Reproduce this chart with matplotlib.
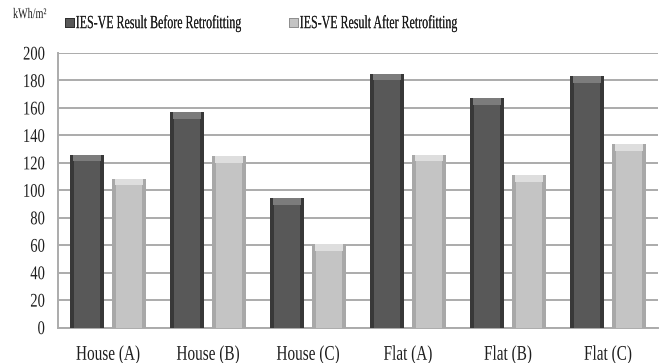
import matplotlib
matplotlib.use("Agg")
import matplotlib.pyplot as plt
import numpy as np
from matplotlib.patheffects import AbstractPathEffect
from matplotlib.transforms import Affine2D
from matplotlib.patches import Patch

categories = ["House (A)", "House (B)", "House (C)", "Flat (A)", "Flat (B)", "Flat (C)"]
before = [126, 157, 94, 185, 167, 183]
after = [108.5, 125, 61, 126, 111, 133.5]
series_names = ["IES-VE Result Before Retrofitting", "IES-VE Result After Retrofitting"]
y_ticks = [0, 20, 40, 60, 80, 100, 120, 140, 160, 180, 200]
unit_label = "kWh/m\u00b2"

plt.rcParams["font.family"] = ["Liberation Serif", "DejaVu Serif"]
TEXT = "#1e1e1e"


class Tall(AbstractPathEffect):
    """Draw text taller than normal, keeping its top, centre or bottom fixed."""

    def __init__(self, sy, anchor="center"):
        super().__init__()
        self.sy = sy
        self.anchor = anchor

    def draw_path(self, renderer, gc, tpath, affine, rgbFace=None):
        ext = tpath.get_extents()
        if self.anchor == "top":
            cy = ext.y1
        elif self.anchor == "bottom":
            cy = ext.y0
        else:
            cy = 0.5 * (ext.y0 + ext.y1)
        t = Affine2D().translate(0, -cy).scale(1, self.sy).translate(0, cy) + affine
        renderer.draw_path(gc, tpath, t, rgbFace)


fig = plt.figure(figsize=(6.70, 3.63), dpi=100)
ax = fig.add_axes([58 / 670, 1 - 327.5 / 363, 600 / 670, 274.5 / 363])

x = np.arange(len(categories))
w = 0.345
off = 0.21

styles = [
    dict(body="#585858", edge="#383838", bevel="#7c7c7c"),
    dict(body="#c4c4c4", edge="#a8a8a8", bevel="#dedede"),
]

for vals, pos, st in [(before, x - off, styles[0]), (after, x + off, styles[1])]:
    vals = np.asarray(vals, dtype=float)
    ax.bar(pos, vals, width=w, color=st["body"], zorder=3)
    # darker side strips for a bevelled look
    ew = w * 0.12
    ax.bar(pos - w / 2 + ew / 2, vals, width=ew, color=st["edge"], zorder=4)
    ax.bar(pos + w / 2 - ew / 2, vals, width=ew, color=st["edge"], zorder=4)
    # lighter cap at the top of each bar
    bev = 5.0
    ax.bar(pos, np.full_like(vals, bev), bottom=vals - bev, width=w * 0.8,
           color=st["bevel"], zorder=5)

ax.set_xlim(-0.5, len(categories) - 0.5)
ax.set_ylim(0, 200)
ax.set_yticks(y_ticks)
ax.yaxis.grid(True, color="#ababab", linewidth=1.4, zorder=0)
ax.set_axisbelow(True)

for s in ["top", "right"]:
    ax.spines[s].set_visible(False)
for s in ["left", "bottom"]:
    ax.spines[s].set_color("#ababab")
    ax.spines[s].set_linewidth(1.4)

ax.set_xticks(x)
ax.set_xticklabels(categories)
ax.tick_params(axis="x", length=0, pad=13, labelsize=11, colors=TEXT)
ax.tick_params(axis="y", length=0, pad=9.5, labelsize=10.5, colors=TEXT)
for lab in ax.get_xticklabels():
    lab.set_path_effects([Tall(1.37, "top")])
for lab in ax.get_yticklabels():
    lab.set_path_effects([Tall(1.33, "center")])

unit = fig.text(13 / 670, 1 - 14 / 363, unit_label, fontsize=7.3, va="center",
                ha="left", color=TEXT)
unit.set_path_effects([Tall(1.45, "center")])

# one legend entry per series, each placed on the header line
handles = [Patch(facecolor=styles[0]["body"], edgecolor="#2a2a2a", linewidth=0.6),
           Patch(facecolor=styles[1]["body"], edgecolor="#8a8a8a", linewidth=0.6)]
for h, name, xl in zip(handles, series_names, [65, 289]):
    leg = fig.legend([h], [name], loc="center left",
                     bbox_to_anchor=(xl / 670, 1 - 23.5 / 363), frameon=False,
                     fontsize=8.6, handlelength=0.75, handleheight=0.75,
                     handletextpad=0.15, borderaxespad=0, borderpad=0)
    for t in leg.get_texts():
        t.set_color(TEXT)
        t.set_path_effects([Tall(1.56, "center")])
    fig.add_artist(leg)

fig.savefig("out.png", dpi=100)
